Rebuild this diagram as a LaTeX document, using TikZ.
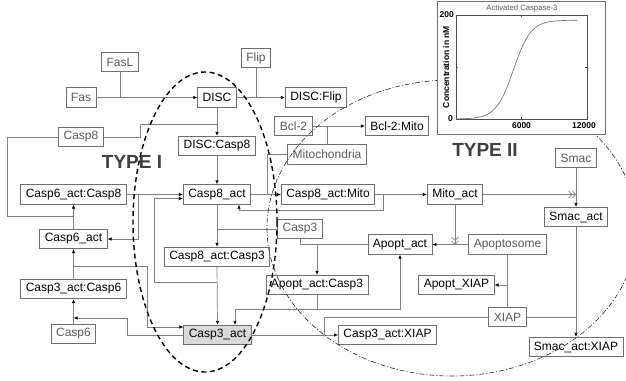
\documentclass[tikz,border=0pt]{standalone}
\usepackage{fontspec}
\setmainfont{Liberation Sans}
\usetikzlibrary{arrows.meta}
\definecolor{boxc}{HTML}{6E6E6E}
\definecolor{linec}{HTML}{808080}
\definecolor{inic}{HTML}{5A5A5A}
\definecolor{actfill}{HTML}{D9D9D9}
\definecolor{typec}{HTML}{404040}
\newcommand\nfont{\fontsize{12}{13}\selectfont}
\newcommand\tfont{\fontsize{19}{20}\selectfont\bfseries}
\newcommand\pfont{\fontsize{8.5}{9}\selectfont\bfseries}
\tikzset{
  sp/.style={draw=boxc, fill=white, line width=0.7pt, minimum height=19.5pt, inner xsep=5pt, inner ysep=0pt, font=\nfont, text=black},
  ini/.style={sp, text=inic},
  cn/.style={draw=linec, line width=0.7pt},
  ar/.style={cn, -{Latex[length=4pt,width=3.5pt,color=black]}},
  stim/.style={cn, -{Straight Barb[length=3pt,width=7pt] Straight Barb[length=3pt,width=7pt]}},
  typelbl/.style={font=\tfont, text=typec, inner sep=0pt},
  plab/.style={font=\pfont, inner sep=1pt}
}
\begin{document}
\begin{tikzpicture}[x=1pt,y=-1pt]
\useasboundingbox (0,0) rectangle (626,380);
% nodes
\node[ini] (FasL) at (120,62) {FasL};
\node[ini] (Flip) at (256,58) {Flip};
\node[ini] (Fas) at (81,97.5) {Fas};
\node[sp] (DISC) at (217,97.5) {DISC};
\node[sp] (DISCFlip) at (316,97.5) {DISC:Flip};
\node[ini] (Casp8) at (81,137) {Casp8};
\node[sp] (DISCCasp8) at (217,146) {DISC:Casp8};
\node[ini] (Bcl2) at (293.5,126) {Bcl-2};
\node[sp] (Bcl2Mito) at (397,126) {Bcl-2:Mito};
\node[ini] (Mitochondria) at (327,154.5) {Mitochondria};
\node[sp] (Casp6actCasp8) at (73.5,194.5) {Casp6\_act:Casp8};
\node[sp] (Casp8act) at (217,194.5) {Casp8\_act};
\node[sp] (Casp8actMito) at (328,194.5) {Casp8\_act:Mito};
\node[sp] (Mitoact) at (455,194.5) {Mito\_act};
\node[ini] (Smac) at (576,158) {Smac};
\node[sp] (Smacact) at (576,217) {Smac\_act};
\node[ini] (Casp3) at (300,229) {Casp3};
\node[sp] (Casp6act) at (73.5,239) {Casp6\_act};
\node[sp] (Apoptact) at (400,244.5) {Apopt\_act};
\node[ini] (Apoptosome) at (507.5,244.5) {Apoptosome};
\node[sp] (Casp8actCasp3) at (217,257) {Casp8\_act:Casp3};
\node[sp] (ApoptactCasp3) at (317,285) {Apopt\_act:Casp3};
\node[sp] (ApoptXIAP) at (456.5,285) {Apopt\_XIAP};
\node[sp] (Casp3actCasp6) at (73.5,289) {Casp3\_act:Casp6};
\node[ini] (XIAP) at (507.5,317) {XIAP};
\node[ini] (Casp6) at (73.5,334) {Casp6};
\node[sp, fill=actfill] (Casp3act) at (217.5,335) {Casp3\_act};
\node[sp] (Casp3actXIAP) at (387.5,335) {Casp3\_act:XIAP};
\node[sp] (SmacactXIAP) at (576,347) {Smac\_act:XIAP};
% junction coordinates
\coordinate (jc8a) at (140,137);
\coordinate (jc8b) at (140,124);
\coordinate (j6) at (138,194.5);
\coordinate (j83a) at (217,282);
\coordinate (j83b) at (154,282);
\coordinate (j83c) at (154,198.5);
\coordinate (jm) at (267,154.5);
\coordinate (jx1) at (383,194.5);
\coordinate (jx2) at (383,210);
\coordinate (jx3) at (239,210);
\coordinate (jaL) at (235,309);
\coordinate (jaR) at (400,309);
\coordinate (jxi) at (324,317);
\coordinate (jl1) at (127,335);
\coordinate (jl2) at (127,318);
\coordinate (jl4) at (147,266);
\coordinate (jl5) at (147,327);
\coordinate (jl6) at (7,137);
\coordinate (jl7) at (7,216);
% connectors
\draw[ar] (Fas.east) -- (DISC.west);
\draw[cn] (FasL.south) -- (FasL.south |- Fas.east);
\draw[ar] (DISC.east) -- (DISCFlip.west);
\draw[cn] (Flip.south) -- (Flip.south |- DISC.east);
\draw[ar] (DISC.south) -- (DISCCasp8.north);
\draw[cn] (Casp8.east) -- (jc8a) -- (jc8b) -- (jc8b -| DISC.south);
\draw[ar] (DISCCasp8.south) -- (Casp8act.north);
\draw[ar] (Casp6actCasp8.east) -- (Casp8act.west);
\draw[ar] (j6) -- (j6 |- Casp6act.east) -- (Casp6act.east);
\draw[ar] (Casp8actCasp3.south) -- (Casp3act.north);
\draw[ar] (j83a) -- (j83b) -- (j83c) -- (j83c -| Casp8act.west);
\draw[ar] (Casp8act.south) -- (Casp8actCasp3.north);
\draw[cn] (Casp3.west) -- (Casp3.west -| Casp8act.south);
\draw[ar] (Casp8act.east) -- (Casp8actMito.west);
\draw[cn] (Mitochondria.west) -- (jm) -- (jm |- Casp8act.east);
\draw[ar] (Bcl2.east) -- (Bcl2Mito.west);
\draw[cn] (Mitochondria.north) -- (Mitochondria.north |- Bcl2.east);
\draw[ar] (Casp8actMito.east) -- (Mitoact.west);
\draw[ar] (jx1) -- (jx2) -- (jx3) -- (jx3 |- Casp8act.south);
\draw[stim] (Mitoact.east) -- (Mitoact.east -| Smac.south);
\draw[ar] (Smac.south) -- (Smacact.north);
\draw[stim] (Mitoact.south) -- (Mitoact.south |- Apoptosome.west);
\draw[ar] (Apoptosome.west) -- (Apoptact.east);
\draw[cn] (Casp3.south) -- (Casp3.south |- Apoptact.west) -- (Apoptact.west);
\draw[ar] (ApoptactCasp3.north |- Apoptact.west) -- (ApoptactCasp3.north);
\draw[ar] (ApoptactCasp3.south) -- (ApoptactCasp3.south |- jaL) -- (jaL) -- (jaL |- Casp3act.north);
\draw[ar] (ApoptactCasp3.south |- jaL) -- (jaR) -- (Apoptact.south);
\draw[ar] (Casp3act.east) -- (Casp3actXIAP.west);
\draw[cn] (XIAP.west) -- (jxi) -- (jxi |- Casp3act.east);
\draw[cn] (Apoptosome.south) -- (XIAP.north);
\draw[ar] (XIAP.north |- ApoptXIAP.east) -- (ApoptXIAP.east);
\draw[cn] (XIAP.east) -- (XIAP.east -| Smacact.south);
\draw[ar] (Smacact.south) -- (SmacactXIAP.north);
\draw[ar] (Casp6.north) -- (Casp3actCasp6.south);
\draw[ar] (Casp3act.west) -- (jl1) -- (jl2) -- (jl2 -| Casp6.north);
\draw[ar] (Casp3actCasp6.north) -- (Casp6act.south);
\draw[ar] (jl4 -| Casp6act.south) -- (jl4) -- (jl5) -- (jl5 -| Casp3act.west);
\draw[ar] (Casp6act.north) -- (Casp6actCasp8.south);
\draw[cn] (Casp8.west) -- (jl6) -- (jl7) -- (jl7 -| Casp6act.north);
% labels
\node[typelbl] (typeI) at (132,162) {TYPE I};
\node[typelbl] (typeII) at (485,150) {TYPE II};
% ellipses
\draw[black, line width=1.4pt, dash pattern=on 5pt off 3.5pt] (205,222) ellipse [x radius=72, y radius=150];
\draw[black!85, line width=0.6pt, dash pattern=on 5pt off 2pt on 1pt off 2pt] (452,228) ellipse [x radius=185, y radius=148];
% inset plot
\node[draw=boxc, fill=white, line width=0.7pt, minimum width=168pt, minimum height=133pt, anchor=north west, inner sep=0pt] (plotframe) at (437,1) {};
\draw[black!70, line width=0.5pt] (456,15) rectangle (587,119);
\draw[black!70, line width=0.5pt] (456,67) -- +(2,0) (587,67) -- +(-2,0) (521.5,119) -- +(0,-2) (521.5,15) -- +(0,2);
\draw[black!60, line width=0.6pt] plot[domain=456:577, samples=100] (\x, {119-98.8/(1+exp(-(\x-513.5)/8.71))});
\node[font=\fontsize{7.7}{8}\selectfont, text=black!65, inner sep=0pt] (ptitle) at (522,9) {Activated Caspase-3};
\node[plab, anchor=east] (y200) at (455,15) {200};
\node[plab, anchor=east] (y0) at (454,119) {0};
\node[plab, anchor=north] (x6000) at (521.5,121) {6000};
\node[plab, anchor=north] (x12000) at (584,121) {12000};
\node[plab, rotate=90] (ylab) at (446,67) {Concentration in nM};
\end{tikzpicture}
\end{document}
